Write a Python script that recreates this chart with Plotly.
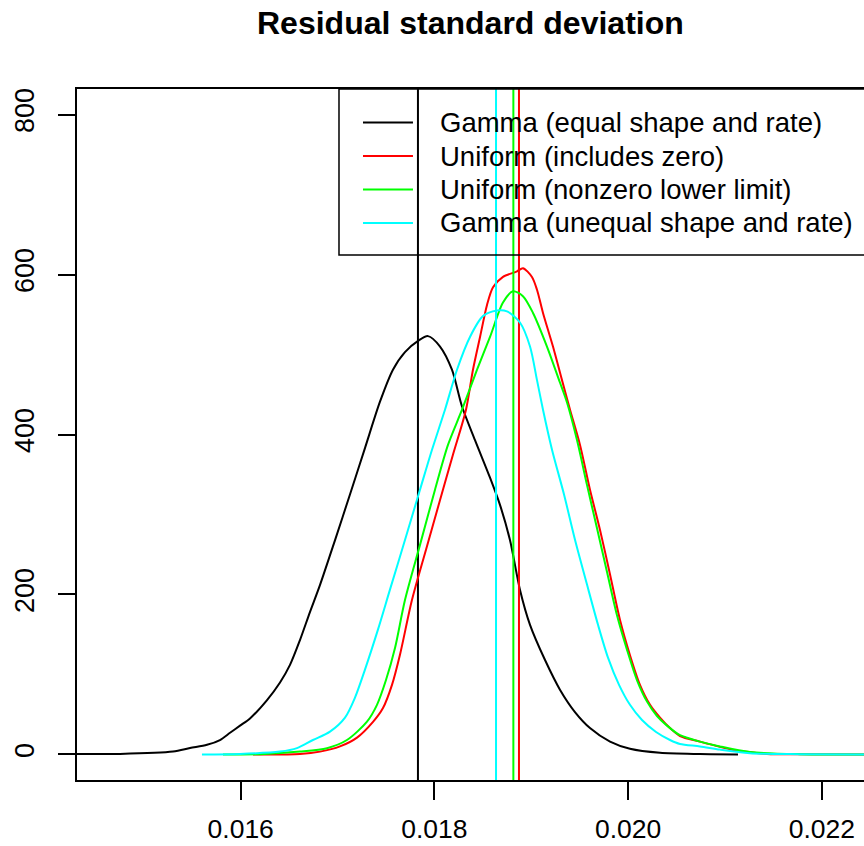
import plotly.graph_objects as go

# ---------------- data ----------------
series_names = [
    "Gamma (equal shape and rate)",
    "Uniform (includes zero)",
    "Uniform (nonzero lower limit)",
    "Gamma (unequal shape and rate)",
]
series_colors = ["#000000", "#FF0000", "#00FF00", "#00FFFF"]

gamma_eq_x = [0.01431, 0.014754, 0.015301, 0.015477, 0.015652, 0.015786, 0.01589,
              0.015993, 0.016096, 0.016272, 0.016406, 0.016509, 0.016612, 0.016715,
              0.016819, 0.016974, 0.017128, 0.017283, 0.017438, 0.017572, 0.017696,
              0.017831, 0.017934, 0.018058, 0.018181, 0.018285, 0.018419, 0.018574,
              0.018677, 0.01878, 0.018883, 0.018987, 0.019142, 0.019296, 0.019451,
              0.019606, 0.019813, 0.020019, 0.020329, 0.020742, 0.021134]
gamma_eq_y = [0.5, 0.6, 3.5, 8, 12, 18, 27, 36, 45, 68, 90, 112, 143, 178, 212, 268,
              325, 383, 441, 481, 503, 517, 523, 510, 481, 435, 393, 346, 312, 268,
              206, 162, 118, 81, 53, 33, 16, 7, 2, 0.5, 0]

unif_zero_x = [0.016127, 0.016612, 0.016819, 0.017025, 0.017201, 0.017366, 0.017469,
               0.017562, 0.017645, 0.017768, 0.017913, 0.018058, 0.018192, 0.018326,
               0.018398, 0.018471, 0.018543, 0.018605, 0.018708, 0.018853, 0.018914,
               0.019007, 0.019059, 0.019121, 0.019224, 0.019317, 0.0194, 0.019503,
               0.019606, 0.019709, 0.019813, 0.019916, 0.020019, 0.020122, 0.020226,
               0.020329, 0.020432, 0.020535, 0.020742, 0.020948, 0.021083, 0.021258,
               0.021433, 0.021774, 0.022497]
unif_zero_y = [0, 0.6, 3.5, 10, 21, 40.7, 58, 87, 125, 193, 256, 318, 375, 431, 481,
               522, 562, 584, 597, 604, 608, 597, 581, 552, 510, 468, 431, 387, 331,
               281, 225, 168, 124, 87, 62, 46, 33, 23, 16, 9.4, 5.6, 2.8, 0.6, 0.1, 0]

unif_nz_x = [0.015817, 0.016199, 0.016612, 0.016891, 0.017097, 0.017304, 0.017407,
             0.017500, 0.017593, 0.017696, 0.017851, 0.018006, 0.01814, 0.018285,
             0.01844, 0.018574, 0.018708, 0.018811, 0.018914, 0.019018, 0.019162,
             0.019296, 0.019369, 0.019472, 0.019575, 0.019678, 0.019782, 0.019885,
             0.019988, 0.020091, 0.020195, 0.020298, 0.020401, 0.020535, 0.020742,
             0.020948, 0.021258, 0.021774, 0.022497]
unif_nz_y = [0, 0.3, 3.5, 7.8, 18, 41, 62, 93, 133, 193, 262, 331, 387, 431, 481, 522,
             565, 579, 573, 552, 510, 465, 440, 393, 337, 283, 228, 174, 131, 93, 66,
             48, 36, 24, 16, 10, 3, 0.3, 0]

gamma_uneq_x = [0.0156, 0.015993, 0.016406, 0.016581, 0.016746, 0.016922, 0.017077,
                0.01718, 0.017283, 0.017417, 0.017541, 0.017696, 0.017851, 0.017975,
                0.018109, 0.018233, 0.018367, 0.018501, 0.018646, 0.018749, 0.018883,
                0.018987, 0.019059, 0.019121, 0.019214, 0.019338, 0.019452, 0.019576,
                0.019689, 0.019792, 0.019906, 0.020019, 0.020143, 0.020288, 0.020432,
                0.020535, 0.020742, 0.020948, 0.021258, 0.021774, 0.022497]
gamma_uneq_y = [0, 0.6, 3.5, 7.8, 18, 28.5, 46, 71, 106, 156, 206, 268, 331, 381, 431,
                481, 522, 548, 555, 554, 540, 510, 468, 431, 381, 325, 268, 212, 162,
                121, 87, 62, 43, 28, 18, 13, 10, 6, 1.5, 0.3, 0]

# posterior means (vertical reference lines)
series_means = [0.01783, 0.018873, 0.018815, 0.018636]

x_ticks = [0.016, 0.018, 0.020, 0.022]
x_tick_labels = ["0.016", "0.018", "0.020", "0.022"]
y_ticks = [0, 200, 400, 600, 800]
y_tick_labels = ["0", "200", "400", "600", "800"]

x_range = [0.01431, 0.022435]
y_range = [-32, 832]

title_text = "Residual standard deviation"

# ---------------- figure ----------------
FONT = "Liberation Sans, Arial, Helvetica, sans-serif"
curves = [(gamma_eq_x, gamma_eq_y), (unif_zero_x, unif_zero_y),
          (unif_nz_x, unif_nz_y), (gamma_uneq_x, gamma_uneq_y)]

fig = go.Figure()
for (xs, ys), name, col, m in zip(curves, series_names, series_colors, series_means):
    fig.add_trace(go.Scatter(x=xs, y=ys, mode="lines", name=name,
                             line=dict(color=col, width=2, shape="spline", smoothing=0.8),
                             showlegend=False, hoverinfo="skip"))
    fig.add_trace(go.Scatter(x=[m, m], y=y_range, mode="lines", name=name + " mean",
                             line=dict(color=col, width=2), showlegend=False,
                             hoverinfo="skip"))

# manual R-style legend
leg_left, leg_bottom = 0.3329, 0.7598
fig.add_shape(type="rect", xref="paper", yref="paper", x0=leg_left, x1=1.01,
              y0=leg_bottom, y1=1.0, line=dict(color="black", width=1.5),
              fillcolor="rgba(0,0,0,0)", layer="above")
row_y = [0.9515, 0.9030, 0.8546, 0.8061]
for name, col, ry in zip(series_names, series_colors, row_y):
    fig.add_shape(type="line", xref="paper", yref="paper", x0=0.3634, x1=0.4269,
                  y0=ry, y1=ry, line=dict(color=col, width=2))
    fig.add_annotation(xref="paper", yref="paper", x=0.4587, y=ry, text=name,
                       showarrow=False, xanchor="left", yanchor="middle",
                       font=dict(family=FONT, size=27.5, color="black"))

fig.add_annotation(xref="paper", yref="paper", x=0.5, y=1.0, yshift=66,
                   text=title_text, showarrow=False, xanchor="center",
                   yanchor="middle",
                   font=dict(family=FONT, size=32, color="black", weight="bold"))

fig.update_layout(
    width=864, height=846,
    margin=dict(l=77, r=0, t=89, b=66, pad=0),
    paper_bgcolor="white", plot_bgcolor="white",
    font=dict(family=FONT, color="black"),
    showlegend=False,
)
fig.update_xaxes(range=x_range, tickvals=x_ticks, ticktext=x_tick_labels,
                 showgrid=False, zeroline=False, showline=True, linecolor="black",
                 linewidth=1.5, mirror=True, ticks="outside", ticklen=18,
                 tickwidth=1.5, tickcolor="black", ticklabelstandoff=6,
                 tickfont=dict(family=FONT, size=26.5, color="black"))
fig.update_yaxes(range=y_range, tickvals=y_ticks, ticktext=y_tick_labels,
                 showgrid=False, zeroline=False, showline=True, linecolor="black",
                 linewidth=1.5, mirror=False, ticks="outside", ticklen=17,
                 tickwidth=1.5, tickcolor="black", tickangle=-90,
                 ticklabelstandoff=13,
                 tickfont=dict(family=FONT, size=27, color="black"))

fig.write_html("out.html")
